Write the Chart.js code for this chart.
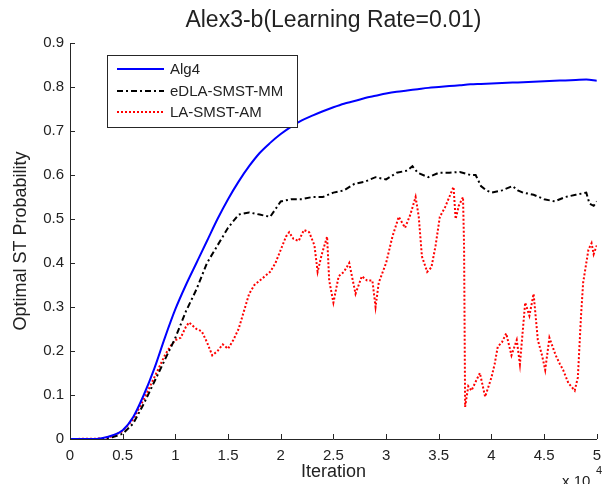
<!DOCTYPE html>
<html>
<head>
<meta charset="utf-8">
<script src="https://cdn.jsdelivr.net/npm/chart.js@4"></script>
<style>
  html, body { margin: 0; padding: 0; background: #fff; }
  #wrap { width: 609px; height: 484px; position: relative; }
</style>
</head>
<body>
<div id="wrap"><canvas id="myChart"></canvas></div>
<script>
// iteration values are in units of 10^4
const alg4X = [0, 0.1, 0.2, 0.3, 0.4, 0.5, 0.6, 0.7, 0.8, 0.9, 1.0, 1.1, 1.2, 1.3, 1.4, 1.5, 1.6, 1.7, 1.8, 1.9,
  2.0, 2.1, 2.2, 2.3, 2.4, 2.5, 2.6, 2.7, 2.8, 2.9, 3.0, 3.1, 3.2, 3.3, 3.4, 3.5, 3.6, 3.7, 3.8, 3.9,
  4.0, 4.1, 4.2, 4.3, 4.4, 4.5, 4.6, 4.7, 4.8, 4.9, 5.0];
const alg4Y = [0, 0, 0, 0.002, 0.008, 0.02, 0.05, 0.10, 0.16, 0.23, 0.295, 0.35, 0.40, 0.45, 0.50, 0.545, 0.585, 0.62, 0.65, 0.673,
  0.693, 0.71, 0.724, 0.735, 0.745, 0.754, 0.762, 0.768, 0.775, 0.78, 0.785, 0.789, 0.792, 0.795, 0.798, 0.80, 0.802, 0.804, 0.806, 0.807,
  0.808, 0.809, 0.81, 0.811, 0.812, 0.813, 0.814, 0.815, 0.816, 0.817, 0.814];

const edlaX = [0, 0.1, 0.2, 0.3, 0.4, 0.5, 0.6, 0.7, 0.8, 0.9, 1.0, 1.1, 1.2, 1.3, 1.4, 1.5, 1.6, 1.7, 1.8, 1.9,
  2.0, 2.1, 2.2, 2.3, 2.4, 2.5, 2.6, 2.7, 2.8, 2.9, 3.0, 3.1, 3.2, 3.25, 3.3, 3.4, 3.5, 3.6, 3.7, 3.8, 3.85, 3.9, 3.95,
  4.0, 4.1, 4.2, 4.25, 4.3, 4.4, 4.5, 4.6, 4.7, 4.8, 4.9, 4.93, 4.97, 5.0];
const edlaY = [0, 0, 0, 0, 0.004, 0.012, 0.035, 0.08, 0.13, 0.18, 0.23, 0.29, 0.34, 0.40, 0.44, 0.48, 0.51, 0.515, 0.51, 0.505,
  0.54, 0.545, 0.545, 0.55, 0.55, 0.56, 0.565, 0.58, 0.585, 0.595, 0.59, 0.605, 0.61, 0.62, 0.605, 0.595, 0.605, 0.605, 0.607, 0.60, 0.60, 0.575, 0.565,
  0.56, 0.565, 0.575, 0.565, 0.56, 0.555, 0.545, 0.54, 0.55, 0.555, 0.56, 0.535, 0.53, 0.54];

const laX = [0, 0.3, 0.4, 0.5, 0.6, 0.7, 0.8, 0.9, 0.95, 1.0, 1.05, 1.1, 1.13, 1.2, 1.25, 1.3, 1.35, 1.4, 1.45, 1.5,
  1.55, 1.6, 1.65, 1.7, 1.75, 1.8, 1.85, 1.9, 1.95, 2.0, 2.05, 2.08, 2.12, 2.17, 2.22, 2.27, 2.32, 2.35, 2.39, 2.44,
  2.46, 2.5, 2.55, 2.6, 2.65, 2.71, 2.77, 2.82, 2.87, 2.9, 2.93, 3.0, 3.06, 3.12, 3.18, 3.23, 3.28, 3.31, 3.34, 3.39,
  3.43, 3.47, 3.51, 3.56, 3.6, 3.64, 3.66, 3.69, 3.73, 3.74, 3.75, 3.78, 3.81, 3.85, 3.89, 3.94, 4.0, 4.03, 4.06, 4.1,
  4.14, 4.19, 4.24, 4.27, 4.32, 4.36, 4.4, 4.44, 4.48, 4.51, 4.55, 4.58, 4.61, 4.65, 4.68, 4.73, 4.79, 4.82, 4.85, 4.87,
  4.9, 4.92, 4.95, 4.97, 5.0];
const laY = [0, 0.001, 0.006, 0.018, 0.045, 0.09, 0.14, 0.19, 0.21, 0.225, 0.23, 0.255, 0.265, 0.25, 0.245, 0.22, 0.19, 0.20, 0.215, 0.205,
  0.225, 0.25, 0.29, 0.33, 0.35, 0.36, 0.37, 0.38, 0.40, 0.43, 0.46, 0.47, 0.455, 0.45, 0.475, 0.47, 0.44, 0.38, 0.42, 0.46,
  0.36, 0.31, 0.37, 0.38, 0.40, 0.33, 0.37, 0.36, 0.36, 0.30, 0.355, 0.40, 0.46, 0.505, 0.48, 0.51, 0.55, 0.505, 0.415, 0.38,
  0.39, 0.44, 0.505, 0.527, 0.55, 0.573, 0.50, 0.53, 0.55, 0.44, 0.073, 0.12, 0.11, 0.13, 0.15, 0.096, 0.14, 0.17, 0.21, 0.22,
  0.24, 0.19, 0.225, 0.17, 0.31, 0.28, 0.33, 0.225, 0.19, 0.157, 0.23, 0.21, 0.19, 0.17, 0.157, 0.127, 0.11, 0.14, 0.28, 0.355,
  0.40, 0.43, 0.445, 0.42, 0.44];

const xTicks = [0, 0.5, 1, 1.5, 2, 2.5, 3, 3.5, 4, 4.5, 5];
const yTicks = [0, 0.1, 0.2, 0.3, 0.4, 0.5, 0.6, 0.7, 0.8, 0.9];

const textColor = '#222';
const font = 'Liberation Sans, Arial, sans-serif';

function pts(xs, ys) {
    return xs.map((x, i) => ({ x: x, y: ys[i] }));
}

// matlab style: inner ticks, legend box, labels
const matlabDeco = {
    id: 'matlabDeco',
    afterDraw(chart) {
        const ctx = chart.ctx;
        const xs = chart.scales.x, ys = chart.scales.y;
        const area = chart.chartArea;
        ctx.save();
        ctx.strokeStyle = '#262626';
        ctx.lineWidth = 1;
        ctx.beginPath();
        xTicks.forEach(v => {
            const px = Math.round(xs.getPixelForValue(v)) + 0.5;
            ctx.moveTo(px, area.bottom);
            ctx.lineTo(px, area.bottom - 5);
        });
        yTicks.forEach(v => {
            const py = Math.round(ys.getPixelForValue(v)) + 0.5;
            ctx.moveTo(area.left, py);
            ctx.lineTo(area.left + 5, py);
        });
        ctx.stroke();

        // title and axis labels
        ctx.fillStyle = textColor;
        ctx.textAlign = 'center';
        ctx.textBaseline = 'middle';
        const cx = (area.left + area.right) / 2;
        ctx.font = '23px ' + font;
        ctx.fillText('Alex3-b(Learning Rate=0.01)', cx, 21);
        ctx.font = '18px ' + font;
        ctx.fillText('Iteration', cx, 472);
        ctx.save();
        ctx.translate(21, (area.top + area.bottom) / 2);
        ctx.rotate(-Math.PI / 2);
        ctx.fillText('Optimal ST Probability', 0, 0);
        ctx.restore();
        ctx.textAlign = 'left';
        ctx.font = '15px ' + font;
        ctx.fillText('x 10', 562, 482);
        ctx.font = '11px ' + font;
        ctx.fillText('4', 596, 471);

        // legend
        const lx = 107.5, ly = 55.5, lw = 190, lh = 72;
        ctx.fillStyle = '#fff';
        ctx.fillRect(lx, ly, lw, lh);
        ctx.strokeStyle = '#262626';
        ctx.strokeRect(lx, ly, lw, lh);
        const rows = [69, 91, 112];
        chart.data.datasets.forEach((ds, i) => {
            ctx.beginPath();
            ctx.strokeStyle = ds.borderColor;
            ctx.lineWidth = ds.borderWidth;
            ctx.setLineDash(ds.borderDash || []);
            ctx.moveTo(117, rows[i]);
            ctx.lineTo(164, rows[i]);
            ctx.stroke();
            ctx.setLineDash([]);
            ctx.fillStyle = textColor;
            ctx.font = '15px ' + font;
            ctx.textBaseline = 'middle';
            ctx.fillText(ds.label, 170, rows[i] + 1);
        });
        ctx.restore();
    }
};

const grafica = document.querySelector('#myChart');
const myChart = new Chart(grafica, {
    type: 'line',
    data: {
        datasets: [
            {
                label: 'Alg4',
                data: pts(alg4X, alg4Y),
                borderColor: '#0000ff',
                borderWidth: 2,
                pointRadius: 0,
                cubicInterpolationMode: 'monotone'
            },
            {
                label: 'eDLA-SMST-MM',
                data: pts(edlaX, edlaY),
                borderColor: '#000000',
                borderWidth: 2,
                borderDash: [6, 3, 2, 3],
                pointRadius: 0,
                tension: 0
            },
            {
                label: 'LA-SMST-AM',
                data: pts(laX, laY),
                borderColor: '#ff0000',
                borderWidth: 2,
                borderDash: [2, 2],
                pointRadius: 0,
                tension: 0
            }
        ]
    },
    options: {
        responsive: true,
        maintainAspectRatio: false,
        animation: false,
        layout: { padding: { top: 43, right: 10, left: 0, bottom: 0 } },
        plugins: {
            legend: { display: false },
            title: { display: false },
            tooltip: { enabled: false }
        },
        scales: {
            x: {
                type: 'linear',
                min: 0,
                max: 5,
                grid: { display: false, drawTicks: false },
                border: { display: true, color: '#262626', width: 1 },
                afterBuildTicks: s => { s.ticks = xTicks.map(v => ({ value: v })); },
                afterFit: s => { s.height = 45; },
                ticks: {
                    color: textColor,
                    font: { family: font, size: 15 },
                    padding: 8,
                    maxRotation: 0,
                    autoSkip: false,
                    callback: v => String(v)
                }
            },
            y: {
                min: 0,
                max: 0.9,
                grid: { display: false, drawTicks: false },
                border: { display: true, color: '#262626', width: 1 },
                afterBuildTicks: s => { s.ticks = yTicks.map(v => ({ value: v })); },
                afterFit: s => { s.width = 70; },
                ticks: {
                    color: textColor,
                    font: { family: font, size: 15 },
                    padding: 6,
                    autoSkip: false,
                    callback: v => String(v)
                }
            }
        }
    },
    plugins: [matlabDeco]
});
</script>
</body>
</html>
